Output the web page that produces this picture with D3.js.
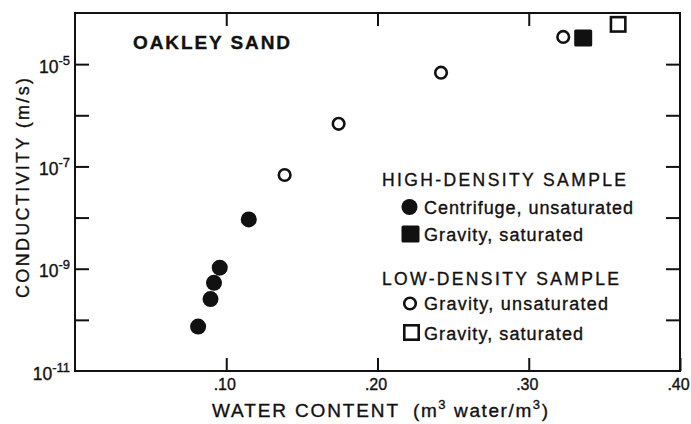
<!DOCTYPE html>
<html>
<head>
<meta charset="utf-8">
<script src="https://cdn.jsdelivr.net/npm/d3@7/dist/d3.min.js"></script>
<style>
  html, body { margin: 0; padding: 0; background: #fff; }
  svg { display: block; }
  text { font-family: "Liberation Sans", Arial, sans-serif; fill: #111; stroke: #111; stroke-width: 0.35px; }
</style>
</head>
<body>
<svg id="chart" width="691" height="424"></svg>
<script>
// Oakley sand: hydraulic conductivity vs volumetric water content
const hdCentrifugeTheta = [0.0814, 0.0896, 0.0919, 0.0957, 0.1149];
const hdCentrifugeK     = [7.4e-11, 2.55e-10, 5.3e-10, 1.05e-9, 9.2e-9];
const hdGravitySatTheta = [0.336];
const hdGravitySatK     = [3.25e-5];
const ldGravityUnsatTheta = [0.1386, 0.1743, 0.2420, 0.3228];
const ldGravityUnsatK     = [6.8e-8, 6.8e-7, 6.8e-6, 3.4e-5];
const ldGravitySatTheta = [0.3591];
const ldGravitySatK     = [6.0e-5];

const xTickValues = [0.10, 0.20, 0.30, 0.40];
const xTickLabels = [".10", ".20", ".30", ".40"];
const yTickDecades = [1e-10, 1e-9, 1e-8, 1e-7, 1e-6, 1e-5];
const yLabelValues = [1e-11, 1e-9, 1e-7, 1e-5];
const yLabelExponents = ["-11", "-9", "-7", "-5"];

const svg = d3.select("#chart");
const INK = "#111";

const x = d3.scaleLinear().domain([0, 0.4]).range([75, 680]);
const y = d3.scaleLog().domain([1e-11, 1e-4]).range([371, 13]);

// plot frame
svg.append("rect")
  .attr("x", x(0)).attr("y", y(1e-4))
  .attr("width", x(0.4) - x(0)).attr("height", y(1e-11) - y(1e-4))
  .attr("fill", "none").attr("stroke", INK).attr("stroke-width", 2);

function styleAxis(g) {
  g.select(".domain").remove();
  g.selectAll(".tick line").attr("stroke", INK).attr("stroke-width", 2);
}

// bottom axis with labels
const axBottom = svg.append("g")
  .attr("transform", `translate(0,${y(1e-11)})`)
  .call(d3.axisBottom(x).tickValues(xTickValues)
    .tickSizeInner(-13).tickSizeOuter(0).tickPadding(8)
    .tickFormat((d, i) => xTickLabels[i]));
styleAxis(axBottom);
axBottom.selectAll(".tick text")
  .attr("x", -2)
  .style("font-family", "'Liberation Sans', Arial, sans-serif")
  .style("font-size", "16px").style("fill", INK)
  .style("stroke", INK).style("stroke-width", "0.35px");

// top axis ticks
const axTop = svg.append("g")
  .attr("transform", `translate(0,${y(1e-4)})`)
  .call(d3.axisTop(x).tickValues(xTickValues.slice(0, 3))
    .tickSizeInner(-13).tickSizeOuter(0).tickFormat(""));
styleAxis(axTop);

// left and right axis ticks
const axLeft = svg.append("g")
  .attr("transform", `translate(${x(0)},0)`)
  .call(d3.axisLeft(y).tickValues(yTickDecades)
    .tickSizeInner(-14).tickSizeOuter(0).tickFormat(""));
styleAxis(axLeft);
const axRight = svg.append("g")
  .attr("transform", `translate(${x(0.4)},0)`)
  .call(d3.axisRight(y).tickValues(yTickDecades)
    .tickSizeInner(-14).tickSizeOuter(0).tickFormat(""));
styleAxis(axRight);

// power-of-ten labels
const yl = svg.append("g").selectAll("text")
  .data(yLabelValues)
  .join("text")
  .attr("x", 70)
  .attr("y", d => y(d) + 8.5)
  .attr("text-anchor", "end");
yl.append("tspan").style("font-size", "17.5px").text("10");
yl.append("tspan").style("font-size", "13px").attr("dy", -8)
  .text((d, i) => yLabelExponents[i]);

// axis titles
svg.append("text")
  .attr("transform", "translate(28.5,188) rotate(-90)")
  .attr("text-anchor", "middle")
  .attr("textLength", 220).attr("lengthAdjust", "spacing")
  .style("font-size", "18px")
  .text("CONDUCTIVITY (m/s)");

svg.append("text")
  .attr("x", 212).attr("y", 417)
  .attr("textLength", 186).attr("lengthAdjust", "spacing")
  .style("font-size", "19px")
  .text("WATER CONTENT");
const unit = svg.append("text")
  .attr("x", 413).attr("y", 417)
  .style("font-size", "19px").style("letter-spacing", "1.6px");
unit.append("tspan").text("(m");
unit.append("tspan").attr("dy", -8).style("font-size", "13px").text("3");
unit.append("tspan").attr("dy", 8).text(" water/m");
unit.append("tspan").attr("dy", -8).style("font-size", "13px").text("3");
unit.append("tspan").attr("dy", 8).text(")");

// panel title
svg.append("text")
  .attr("x", 133).attr("y", 49)
  .attr("textLength", 157).attr("lengthAdjust", "spacing")
  .style("font-size", "19px").style("font-weight", "bold")
  .text("OAKLEY SAND");

// marker drawers
function filledCircle(g, cx, cy) {
  g.append("circle").attr("cx", cx).attr("cy", cy).attr("r", 8).attr("fill", INK);
}
function openCircle(g, cx, cy) {
  g.append("circle").attr("cx", cx).attr("cy", cy).attr("r", 5.8)
    .attr("fill", "#fff").attr("stroke", INK).attr("stroke-width", 2.6);
}
function filledSquare(g, cx, cy) {
  g.append("rect").attr("x", cx - 9).attr("y", cy - 8.5).attr("width", 18).attr("height", 17)
    .attr("rx", 1.5).attr("fill", INK);
}
function openSquare(g, cx, cy) {
  g.append("rect").attr("x", cx - 7.2).attr("y", cy - 7.2).attr("width", 14.4).attr("height", 14.4)
    .attr("fill", "#fff").attr("stroke", INK).attr("stroke-width", 2.6);
}

const marks = svg.append("g");
hdCentrifugeTheta.forEach((t, i) => filledCircle(marks, x(t), y(hdCentrifugeK[i])));
ldGravityUnsatTheta.forEach((t, i) => openCircle(marks, x(t), y(ldGravityUnsatK[i])));
hdGravitySatTheta.forEach((t, i) => filledSquare(marks, x(t), y(hdGravitySatK[i])));
ldGravitySatTheta.forEach((t, i) => openSquare(marks, x(t), y(ldGravitySatK[i])));

// legend
const lg = svg.append("g");
function legendText(xp, yp, len, size, str) {
  lg.append("text").attr("x", xp).attr("y", yp)
    .attr("textLength", len).attr("lengthAdjust", "spacing")
    .style("font-size", size + "px").text(str);
}
legendText(382, 186, 244, 17.5, "HIGH-DENSITY  SAMPLE");
filledCircle(lg, 409.5, 207);
legendText(424, 213.5, 209, 18, "Centrifuge, unsaturated");
filledSquare(lg, 410.5, 234);
legendText(424, 241, 159, 18, "Gravity, saturated");
legendText(382, 285, 237, 17.5, "LOW-DENSITY  SAMPLE");
openCircle(lg, 410, 303.5);
legendText(424, 309.5, 184, 18, "Gravity, unsaturated");
openSquare(lg, 411.5, 332.5);
legendText(424, 339.5, 159, 18, "Gravity, saturated");
</script>
</body>
</html>
